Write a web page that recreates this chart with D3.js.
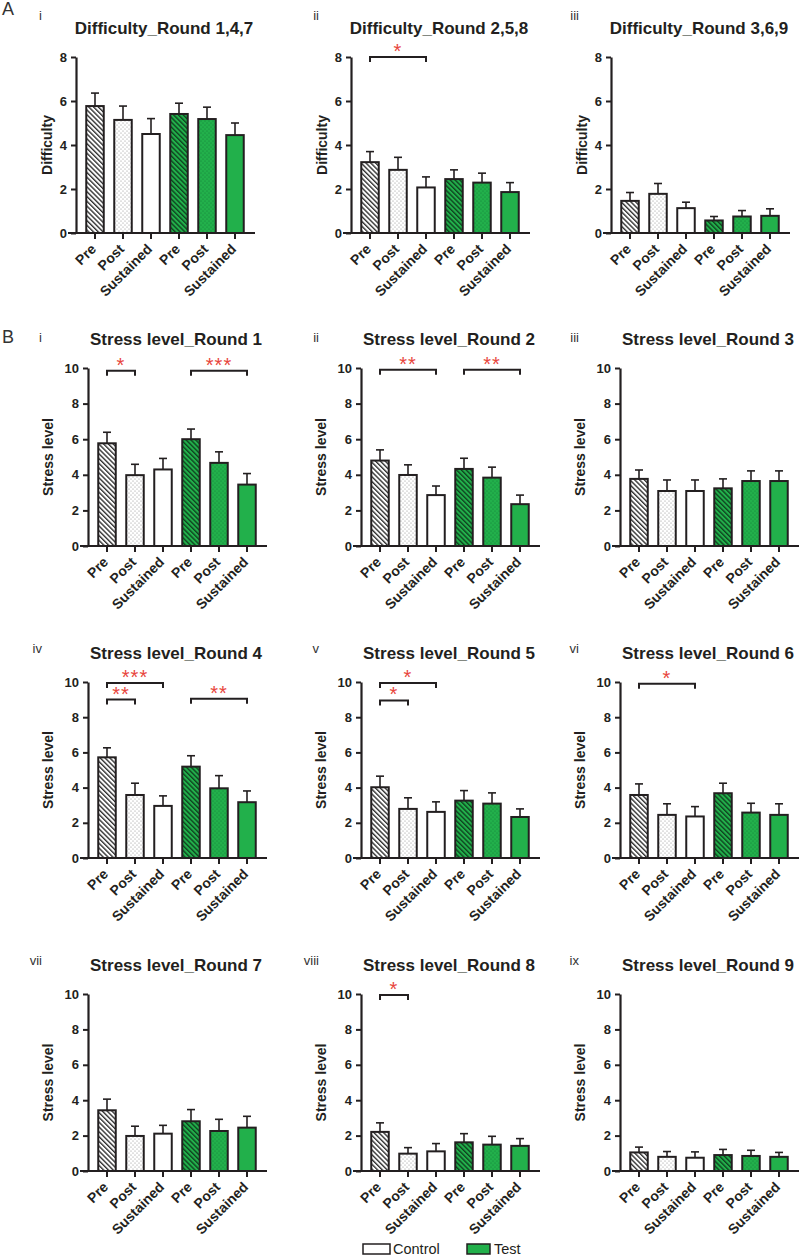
<!DOCTYPE html>
<html><head><meta charset="utf-8">
<script src="https://cdn.jsdelivr.net/npm/d3@7/dist/d3.min.js"></script>
<style>
html,body{margin:0;padding:0;background:#fff;}
svg{display:block;font-family:"Liberation Sans",Arial,sans-serif;}
</style></head>
<body>
<svg id="chart" width="799" height="1258"></svg>
<script>
// ---------- DATA ----------
const categories = ["Pre","Post","Sustained","Pre","Post","Sustained"];
const groups = ["Control","Control","Control","Test","Test","Test"];
const fills = ["hatchW","dotW","plainW","hatchG","dotG","plainG"];

const diffTitles = ["Difficulty_Round 1,4,7","Difficulty_Round 2,5,8","Difficulty_Round 3,6,9"];
const diffMeans = [
  [5.77,5.14,4.50,5.41,5.18,4.45],
  [3.22,2.87,2.07,2.45,2.29,1.86],
  [1.46,1.78,1.13,0.57,0.75,0.78]
];
const diffSEM = [
  [0.59,0.63,0.70,0.49,0.54,0.55],
  [0.48,0.57,0.48,0.42,0.43,0.43],
  [0.38,0.47,0.27,0.18,0.27,0.32]
];
const diffTicks = [0,2,4,6,8];

const stressTitles = ["Stress level_Round 1","Stress level_Round 2","Stress level_Round 3",
  "Stress level_Round 4","Stress level_Round 5","Stress level_Round 6",
  "Stress level_Round 7","Stress level_Round 8","Stress level_Round 9"];
const stressMeans = [
  [5.77,3.98,4.30,6.00,4.67,3.45],
  [4.80,3.99,2.86,4.33,3.84,2.35],
  [3.77,3.09,3.09,3.24,3.65,3.65],
  [5.72,3.58,2.96,5.19,3.96,3.17],
  [4.02,2.79,2.62,3.26,3.09,2.33],
  [3.58,2.45,2.36,3.68,2.58,2.45],
  [3.43,1.98,2.11,2.81,2.26,2.45],
  [2.21,0.98,1.11,1.62,1.49,1.42],
  [1.05,0.80,0.75,0.90,0.85,0.80]
];
const stressSEM = [
  [0.62,0.61,0.62,0.57,0.62,0.62],
  [0.60,0.57,0.51,0.60,0.59,0.51],
  [0.50,0.62,0.62,0.53,0.57,0.57],
  [0.54,0.67,0.57,0.62,0.72,0.64],
  [0.63,0.63,0.57,0.57,0.61,0.46],
  [0.63,0.63,0.56,0.57,0.53,0.63],
  [0.63,0.55,0.47,0.66,0.66,0.64],
  [0.51,0.34,0.44,0.49,0.47,0.41],
  [0.30,0.30,0.33,0.32,0.32,0.25]
];
const stressTicks = [0,2,4,6,8,10];

// significance brackets: [panel, fromIndex, toIndex, level, stars]
const diffSig = [[1,0,2,8.0,"*"]];
const stressSig = [
  [0,0,1,9.85,"*"],[0,3,5,9.85,"***"],
  [1,0,2,9.9,"**"],[1,3,5,9.9,"**"],
  [3,0,2,9.95,"***"],[3,0,1,9.0,"**"],[3,3,5,9.05,"**"],
  [4,0,2,9.95,"*"],[4,0,1,8.95,"*"],
  [5,0,2,9.9,"*"],
  [7,0,1,9.94,"*"]
];
const romans = ["i","ii","iii","iv","v","vi","vii","viii","ix"];
const legendItems = ["Control","Test"];

// ---------- STYLE / LAYOUT ----------
const INK = "#231f20", GREEN = "#22b04b", RED = "#e8453c";
const svg = d3.select("#chart");
svg.append("rect").attr("width",799).attr("height",1258).attr("fill","#fff");

const defs = svg.append("defs");
function hatch(id, bg, line){
  const p = defs.append("pattern").attr("id",id).attr("patternUnits","userSpaceOnUse")
    .attr("width",3.4).attr("height",3.4).attr("patternTransform","rotate(-45)");
  p.append("rect").attr("width",3.4).attr("height",3.4).attr("fill",bg);
  p.append("line").attr("x1",0.7).attr("x2",0.7).attr("y1",0).attr("y2",3.4)
    .attr("stroke",line).attr("stroke-width",1.3);
}
function dots(id, bg, dot){
  const p = defs.append("pattern").attr("id",id).attr("patternUnits","userSpaceOnUse")
    .attr("width",4).attr("height",4);
  p.append("rect").attr("width",4).attr("height",4).attr("fill",bg);
  p.append("circle").attr("cx",1).attr("cy",1).attr("r",0.55).attr("fill",dot);
  p.append("circle").attr("cx",3).attr("cy",3).attr("r",0.55).attr("fill",dot);
}
hatch("hatchW","#fff","#222");
hatch("hatchG",GREEN,"#0d3b1c");
dots("dotW","#fff","#8a8a8a");
dots("dotG",GREEN,"#127a35");
const fillOf = k => k==="plainW" ? "#fff" : k==="plainG" ? GREEN : `url(#${k})`;

function panel(opts){
  const {ax, yTop, yBot, max, ticks, title, roman, romanX, romanOff, means, sem, ylabel, sig, ylabOff} = opts;
  const g = svg.append("g");
  const y = d3.scaleLinear().domain([0,max]).range([yBot,yTop]);
  const x = d3.scaleBand().domain(d3.range(categories.length)).range([ax+5, ax+173]);
  const bw = 17.5;

  // bars
  means.forEach((m,i)=>{
    const cx = x(i) + x.bandwidth()/2;
    g.append("line").attr("x1",cx).attr("x2",cx).attr("y1",y(m)).attr("y2",y(m+sem[i]))
      .attr("stroke",INK).attr("stroke-width",1.6);
    g.append("line").attr("x1",cx-4).attr("x2",cx+4).attr("y1",y(m+sem[i])).attr("y2",y(m+sem[i]))
      .attr("stroke",INK).attr("stroke-width",1.6);
    g.append("rect").attr("x",cx-bw/2).attr("y",y(m)).attr("width",bw).attr("height",y(0)-y(m))
      .attr("fill",fillOf(fills[i])).attr("stroke",INK).attr("stroke-width",2);
  });

  // y axis
  const ya = g.append("g").attr("transform",`translate(${ax},0)`)
    .call(d3.axisLeft(y).tickValues(ticks).tickSize(5).tickSizeOuter(0).tickPadding(4));
  ya.select(".domain").attr("stroke",INK).attr("stroke-width",2.2);
  ya.selectAll(".tick line").attr("stroke",INK).attr("stroke-width",2);
  ya.selectAll(".tick text").attr("fill",INK).attr("font-size",13).attr("font-weight","bold")
    .attr("font-family","Liberation Sans, Arial, sans-serif");

  // x axis
  const xa = g.append("g").attr("transform",`translate(0,${yBot})`)
    .call(d3.axisBottom(x).tickSize(6).tickSizeOuter(0).tickFormat(i=>categories[i]));
  xa.select(".domain").remove();
  xa.append("line").attr("x1",ax-8).attr("x2",ax+179).attr("y1",0).attr("y2",0)
    .attr("stroke",INK).attr("stroke-width",2.2);
  xa.selectAll(".tick line").attr("stroke",INK).attr("stroke-width",2);
  xa.selectAll(".tick text").attr("fill",INK).attr("font-size",14).attr("font-weight","bold")
    .attr("font-family","Liberation Sans, Arial, sans-serif")
    .attr("x",0).attr("y",0).attr("dy",0).attr("text-anchor","end")
    .attr("transform","translate(2,17) rotate(-45)");

  // y label
  g.append("text").attr("transform",`translate(${ax-ylabOff},${(yTop+yBot)/2}) rotate(-90)`)
    .attr("text-anchor","middle").attr("font-size",14).attr("font-weight","bold").attr("fill",INK)
    .text(ylabel);
  // title
  g.append("text").attr("x",ax+88).attr("y",yTop-23).attr("text-anchor","middle")
    .attr("font-size",17).attr("font-weight","bold").attr("fill",INK).text(title);
  // roman
  g.append("text").attr("x",romanX).attr("y",yTop-romanOff).attr("text-anchor","end")
    .attr("font-size",13).attr("fill","#333").text(roman);

  // significance
  sig.forEach(s=>{
    const [, a, b, lvl, stars] = s;
    const x1 = x(a)+x.bandwidth()/2, x2 = x(b)+x.bandwidth()/2, yy = y(lvl);
    g.append("path").attr("d",`M${x1},${yy+5}V${yy}H${x2}V${yy+5}`)
      .attr("fill","none").attr("stroke",INK).attr("stroke-width",2);
    g.append("text").attr("x",(x1+x2)/2).attr("y",yy+1).attr("text-anchor","middle")
      .attr("font-size",20).attr("fill",RED).attr("letter-spacing",1).text(stars);
  });
}

// Row A
const axA = [76,351,611], romanXs = [42,319,579];
diffTitles.forEach((t,k)=>{
  panel({ax:axA[k], yTop:57, yBot:233, max:8, ticks:diffTicks, title:t, roman:romans[k],
    romanX:romanXs[k], romanOff:37, means:diffMeans[k], sem:diffSEM[k], ylabel:"Difficulty",
    sig:diffSig.filter(s=>s[0]===k), ylabOff:24});
});
// Row B
const axB = [88,361,620];
const rowsB = [[368,546],[682,858],[994,1171]];
const romanOffB = [26,29,29];
stressTitles.forEach((t,k)=>{
  const r = Math.floor(k/3), c = k%3;
  panel({ax:axB[c], yTop:rowsB[r][0], yBot:rowsB[r][1], max:10, ticks:stressTicks, title:t,
    roman:romans[k], romanX:romanXs[c], romanOff:romanOffB[r], means:stressMeans[k], sem:stressSEM[k],
    ylabel:"Stress level", sig:stressSig.filter(s=>s[0]===k), ylabOff:35});
});

// panel letters
svg.append("text").attr("x",2).attr("y",15).attr("font-size",18).attr("fill","#333").text("A");
svg.append("text").attr("x",2).attr("y",343).attr("font-size",18).attr("fill","#333").text("B");

// legend
const leg = svg.append("g");
const legX = [363,467];
legendItems.forEach((name,i)=>{
  leg.append("rect").attr("x",legX[i]).attr("y",1244).attr("width",i?23:27).attr("height",10)
    .attr("fill",i?GREEN:"#fff").attr("stroke",INK).attr("stroke-width",1.5);
  leg.append("text").attr("x",legX[i]+(i?27:30)).attr("y",1254).attr("font-size",14.5)
    .attr("fill",INK).text(name);
});
</script>
</body></html>
